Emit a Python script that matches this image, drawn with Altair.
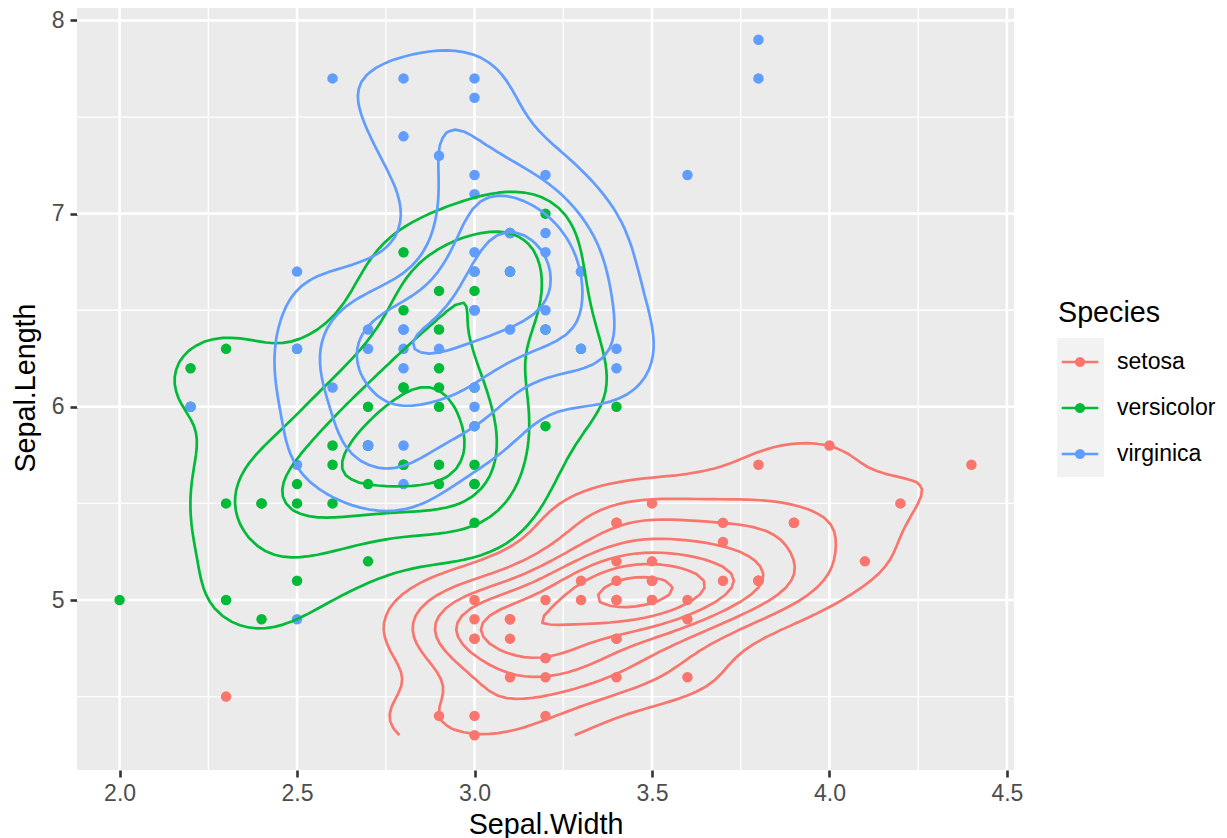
import math
from collections import defaultdict

import altair as alt
import numpy as np
import pandas as pd

# ---------------- data (iris: Sepal.Width, Sepal.Length) ----------------
species = ["setosa", "versicolor", "virginica"]
colors = ["#F8766D", "#00BA38", "#619CFF"]

setosa_sw = [3.5, 3.0, 3.2, 3.1, 3.6, 3.9, 3.4, 3.4, 2.9, 3.1, 3.7, 3.4, 3.0, 3.0, 4.0, 4.4, 3.9, 3.5, 3.8, 3.8,
             3.4, 3.7, 3.6, 3.3, 3.4, 3.0, 3.4, 3.5, 3.4, 3.2, 3.1, 3.4, 4.1, 4.2, 3.1, 3.2, 3.5, 3.6, 3.0, 3.4,
             3.5, 2.3, 3.2, 3.5, 3.8, 3.0, 3.8, 3.2, 3.7, 3.3]
setosa_sl = [5.1, 4.9, 4.7, 4.6, 5.0, 5.4, 4.6, 5.0, 4.4, 4.9, 5.4, 4.8, 4.8, 4.3, 5.8, 5.7, 5.4, 5.1, 5.7, 5.1,
             5.4, 5.1, 4.6, 5.1, 4.8, 5.0, 5.0, 5.2, 5.2, 4.7, 4.8, 5.4, 5.2, 5.5, 4.9, 5.0, 5.5, 4.9, 4.4, 5.1,
             5.0, 4.5, 4.4, 5.0, 5.1, 4.8, 5.1, 4.6, 5.3, 5.0]
versicolor_sw = [3.2, 3.2, 3.1, 2.3, 2.8, 2.8, 3.3, 2.4, 2.9, 2.7, 2.0, 3.0, 2.2, 2.9, 2.9, 3.1, 3.0, 2.7, 2.2, 2.5,
                 3.2, 2.8, 2.5, 2.8, 2.9, 3.0, 2.8, 3.0, 2.9, 2.6, 2.4, 2.4, 2.7, 2.7, 3.0, 3.4, 3.1, 2.3, 3.0, 2.5,
                 2.6, 3.0, 2.6, 2.3, 2.7, 3.0, 2.9, 2.9, 2.5, 2.8]
versicolor_sl = [7.0, 6.4, 6.9, 5.5, 6.5, 5.7, 6.3, 4.9, 6.6, 5.2, 5.0, 5.9, 6.0, 6.1, 5.6, 6.7, 5.6, 5.8, 6.2, 5.6,
                 5.9, 6.1, 6.3, 6.1, 6.4, 6.6, 6.8, 6.7, 6.0, 5.7, 5.5, 5.5, 5.8, 6.0, 5.4, 6.0, 6.7, 6.3, 5.6, 5.5,
                 5.5, 6.1, 5.8, 5.0, 5.6, 5.7, 5.7, 6.2, 5.1, 5.7]
virginica_sw = [3.3, 2.7, 3.0, 2.9, 3.0, 3.0, 2.5, 2.9, 2.5, 3.6, 3.2, 2.7, 3.0, 2.5, 2.8, 3.2, 3.0, 3.8, 2.6, 2.2,
                3.2, 2.8, 2.8, 2.7, 3.3, 3.2, 2.8, 3.0, 2.8, 3.0, 2.8, 3.8, 2.8, 2.8, 2.6, 3.0, 3.4, 3.1, 3.0, 3.1,
                3.1, 3.1, 2.7, 3.2, 3.3, 3.0, 2.5, 3.0, 3.4, 3.0]
virginica_sl = [6.3, 5.8, 7.1, 6.3, 6.5, 7.6, 4.9, 7.3, 6.7, 7.2, 6.5, 6.4, 6.8, 5.7, 5.8, 6.4, 6.5, 7.7, 7.7, 6.0,
                6.9, 5.6, 7.7, 6.3, 6.7, 7.2, 6.2, 6.1, 6.4, 7.2, 7.4, 7.9, 6.4, 6.3, 6.1, 7.7, 6.3, 6.4, 6.0, 6.9,
                6.7, 6.9, 5.8, 6.8, 6.7, 6.7, 6.3, 6.5, 6.2, 5.9]

x_major = [2.0, 2.5, 3.0, 3.5, 4.0, 4.5]
x_minor = [2.25, 2.75, 3.25, 3.75, 4.25]
y_major = [5, 6, 7, 8]
y_minor = [4.5, 5.5, 6.5, 7.5]

sw_by = {"setosa": setosa_sw, "versicolor": versicolor_sw, "virginica": virginica_sw}
sl_by = {"setosa": setosa_sl, "versicolor": versicolor_sl, "virginica": virginica_sl}

points = pd.DataFrame(
    [{"Species": s, "sw": w, "sl": l} for s in species for w, l in zip(sw_by[s], sl_by[s])]
)

# ---------------- 2-D density contours (as stat_density_2d) ----------------
all_sw = points["sw"].to_numpy()
all_sl = points["sl"].to_numpy()
lims = (all_sw.min(), all_sw.max(), all_sl.min(), all_sl.max())
NGRID = 100


def bw_nrd(v):
    v = np.asarray(v, float)
    q1, q3 = np.percentile(v, [25, 75])
    h = (q3 - q1) / 1.34
    return 4 * 1.06 * min(np.std(v, ddof=1), h) * len(v) ** (-0.2)


def kde2d(x, y):
    x = np.asarray(x, float)
    y = np.asarray(y, float)
    gx = np.linspace(lims[0], lims[1], NGRID)
    gy = np.linspace(lims[2], lims[3], NGRID)
    hx = bw_nrd(x) / 4
    hy = bw_nrd(y) / 4
    ax = (gx[:, None] - x[None, :]) / hx
    ay = (gy[:, None] - y[None, :]) / hy
    dn = lambda u: np.exp(-0.5 * u * u) / math.sqrt(2 * math.pi)
    z = dn(ax) @ dn(ay).T / (len(x) * hx * hy)
    return gx, gy, z


def r_pretty(lo, up, ndiv=10):
    h = 1.5
    h5 = 0.5 + 1.5 * h
    min_n = ndiv // 3
    eps = 1e-10
    cell = (up - lo) / ndiv
    U = 10.0 ** math.floor(math.log10(cell))
    unit = U
    if 2 * U - cell < h * (cell - unit):
        unit = 2 * U
        if 5 * U - cell < h5 * (cell - unit):
            unit = 5 * U
            if 10 * U - cell < h * (cell - unit):
                unit = 10 * U
    ns = math.floor(lo / unit + eps)
    nu = math.ceil(up / unit - eps)
    while ns * unit > lo + eps * unit:
        ns -= 1
    while nu * unit < up - eps * unit:
        nu += 1
    k = int(0.5 + nu - ns)
    if k < min_n:
        k = min_n - k
        if ns >= 0:
            nu += k // 2
            ns -= k // 2 + k % 2
        else:
            ns -= k // 2
            nu += k // 2 + k % 2
    return [i * unit for i in range(int(ns), int(nu) + 1)]


def isolines(gx, gy, z, lvl):
    hi = z >= lvl
    nx, ny = z.shape
    segs = []
    for i in range(nx - 1):
        for j in range(ny - 1):
            a, b, c, d = hi[i, j], hi[i + 1, j], hi[i + 1, j + 1], hi[i, j + 1]
            if a == b == c == d:
                continue
            B, R, T, L = ("h", i, j), ("v", i + 1, j), ("h", i, j + 1), ("v", i, j)
            crossed = [e for e, cond in ((B, a != b), (R, b != c), (T, c != d), (L, d != a)) if cond]
            if len(crossed) == 2:
                segs.append((crossed[0], crossed[1]))
            else:
                center = (z[i, j] + z[i + 1, j] + z[i + 1, j + 1] + z[i, j + 1]) / 4 >= lvl
                if a:
                    segs += [(B, R), (T, L)] if center else [(B, L), (R, T)]
                else:
                    segs += [(B, L), (R, T)] if center else [(B, R), (T, L)]

    def pt(key):
        t, i, j = key
        if t == "h":
            z0, z1 = z[i, j], z[i + 1, j]
            f = (lvl - z0) / (z1 - z0)
            return gx[i] + f * (gx[i + 1] - gx[i]), gy[j]
        z0, z1 = z[i, j], z[i, j + 1]
        f = (lvl - z0) / (z1 - z0)
        return gx[i], gy[j] + f * (gy[j + 1] - gy[j])

    adj = defaultdict(list)
    for k, (p, q) in enumerate(segs):
        adj[p].append(k)
        adj[q].append(k)
    used = [False] * len(segs)

    def walk(start, k):
        path = [start]
        cur = start
        while k is not None:
            used[k] = True
            p, q = segs[k]
            nxt = q if p == cur else p
            path.append(nxt)
            cur = nxt
            k = next((m for m in adj[cur] if not used[m]), None)
        return path

    paths = []
    for key, lst in list(adj.items()):
        if len(lst) == 1 and not used[lst[0]]:
            paths.append(walk(key, lst[0]))
    for k in range(len(segs)):
        if not used[k]:
            paths.append(walk(segs[k][0], k))
    return [[pt(key) for key in p] for p in paths]


dens = {s: kde2d(sw_by[s], sl_by[s]) for s in species}
zmin = min(float(d[2].min()) for d in dens.values())
zmax = max(float(d[2].max()) for d in dens.values())
levels = [b for b in r_pretty(zmin, zmax, 10) if b > 0]

rows = []
for s in species:
    gx, gy, z = dens[s]
    for li, lvl in enumerate(levels):
        if lvl >= z.max():
            continue
        for pi, path in enumerate(isolines(gx, gy, z, lvl)):
            pid = f"{s}-{li}-{pi}"
            for o, (px, py) in enumerate(path):
                rows.append({"Species": s, "pid": pid, "ord": o, "sw": px, "sl": py})
contours = pd.DataFrame(rows)

# ---------------- chart ----------------
W, H = 937, 765
PAD_TOP = -3
xdom = [1.88, 4.52]
ydom = [4.12, 8.08]
FONT = "Liberation Sans"

xs = alt.Scale(domain=xdom, nice=False, zero=False)


def ys():
    return alt.Scale(domain=ydom, nice=False, zero=False)


cscale = alt.Scale(domain=species, range=colors)

x_axis = alt.Axis(
    values=x_major, format=".1f", grid=False, domain=False, labelFlush=False,
    tickSize=7, tickWidth=2.6, tickColor="#333333",
    labelColor="#4D4D4D", labelFontSize=23, labelFont=FONT, labelPadding=23, labelBaseline="alphabetic",
    title="Sepal.Width", titleFont=FONT, titleFontSize=28.7, titleFontWeight="normal", titleColor="black",
    titleX=W / 2, titleY=63, titleBaseline="alphabetic", titleAlign="center",
)
y_axis = alt.Axis(
    values=y_major, format="d", grid=False, domain=False, labelFlush=False,
    tickSize=7, tickWidth=2.6, tickColor="#333333",
    labelColor="#4D4D4D", labelFontSize=23, labelFont=FONT, labelPadding=6, labelBaseline="middle",
    title="Sepal.Length", titleFont=FONT, titleFontSize=28.7, titleFontWeight="normal", titleColor="black",
    titleX=-43, titleY=H / 2, titleBaseline="alphabetic", titleAlign="center", titleAngle=270,
)

xmin_df = pd.DataFrame({"v": x_minor})
xmaj_df = pd.DataFrame({"v": x_major})
ymin_df = pd.DataFrame({"v": y_minor})
ymaj_df = pd.DataFrame({"v": y_major})

grid_xmin = alt.Chart(xmin_df).mark_rule(color="white", strokeWidth=1.3).encode(
    x=alt.X("v:Q", scale=xs, axis=x_axis))
grid_xmaj = alt.Chart(xmaj_df).mark_rule(color="white", strokeWidth=2.6).encode(
    x=alt.X("v:Q", scale=xs, axis=x_axis))
grid_ymin = alt.Chart(ymin_df).mark_rule(color="white", strokeWidth=1.3).encode(
    y=alt.Y("v:Q", scale=ys(), axis=None))
grid_ymaj = alt.Chart(ymaj_df).mark_rule(color="white", strokeWidth=2.6).encode(
    y=alt.Y("v:Q", scale=ys(), axis=None))

pts = alt.Chart(points).mark_circle(size=110, opacity=1).encode(
    x=alt.X("sw:Q", scale=xs, axis=x_axis),
    y=alt.Y("sl:Q", scale=ys(), axis=y_axis),
    color=alt.Color("Species:N", scale=cscale, legend=None),
)

lines = alt.Chart(contours).mark_line(strokeWidth=2.7, strokeJoin="round", strokeCap="butt").encode(
    x=alt.X("sw:Q", scale=xs, axis=x_axis),
    y=alt.Y("sl:Q", scale=ys(), axis=None),
    color=alt.Color("Species:N", scale=cscale, legend=None),
    detail="pid:N",
    order="ord:Q",
)

# ---- legend (ggplot style: grey key box, line + point keys); pixel offsets from plot top-left ----
OY = 5  # page y of the plot top
leg_df = pd.DataFrame({"Species": species})
leg_y = alt.Y("Species:N", scale=alt.Scale(type="point", domain=species, range=[362 - OY, 454 - OY], padding=0),
              axis=None)

leg_bg = alt.Chart(pd.DataFrame({"k": [0]})).mark_rect(color="#F2F2F2").encode(
    x=alt.value(980), x2=alt.value(1027), y=alt.value(338 - OY), y2=alt.value(477 - OY))
leg_line = alt.Chart(leg_df).mark_rule(strokeWidth=2.7).encode(
    x=alt.value(984.7), x2=alt.value(1021.3), y=leg_y,
    color=alt.Color("Species:N", scale=cscale, legend=None))
leg_pt = alt.Chart(leg_df).mark_circle(size=105, opacity=1).encode(
    x=alt.value(1003), y=leg_y,
    color=alt.Color("Species:N", scale=cscale, legend=None))
leg_txt = alt.Chart(leg_df).mark_text(align="left", baseline="middle", font=FONT, fontSize=23, color="black").encode(
    x=alt.value(1040), y=leg_y, text="Species:N")
leg_title = alt.Chart(pd.DataFrame({"t": ["Species"]})).mark_text(
    align="left", baseline="alphabetic", font=FONT, fontSize=28.7, color="black").encode(
    x=alt.value(981), y=alt.value(322 - OY), text="t:N")

chart = alt.layer(
    grid_xmin, grid_ymin, grid_xmaj, grid_ymaj, pts, lines,
    leg_bg, leg_line, leg_pt, leg_txt, leg_title,
).resolve_scale(y="independent").properties(
    width=W, height=H,
    autosize=alt.AutoSizeParams(type="none"),
    padding={"left": 69, "top": PAD_TOP, "right": 204, "bottom": 70},
).configure(
    font=FONT, background="white",
).configure_view(
    fill="#EBEBEB", strokeWidth=0,
)

chart.save("out.html", embed_options={"renderer": "svg", "actions": False})
